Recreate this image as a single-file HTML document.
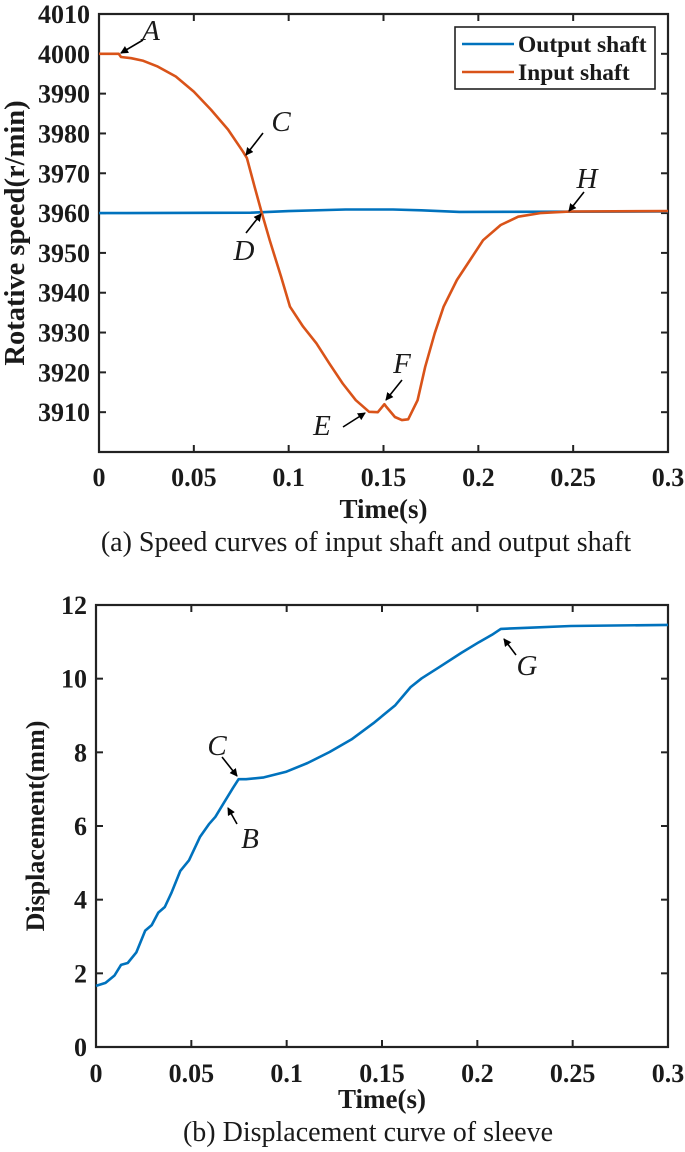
<!DOCTYPE html>
<html><head><meta charset="utf-8"><style>
html,body{margin:0;padding:0;background:#fff;}
svg{display:block;}
text{font-family:"Liberation Serif",serif;fill:#1a1a1a;}
.tk{font-weight:bold;font-size:26px;}
.lb{font-weight:bold;font-size:27px;}
.cap{font-size:28px;}
.an{font-style:italic;font-size:29px;}
</style></head><body>
<svg id="svg" width="685" height="1152" viewBox="0 0 685 1152" xmlns="http://www.w3.org/2000/svg">
<defs><marker id="ah" markerWidth="8" markerHeight="8" refX="7" refY="4" orient="auto" markerUnits="userSpaceOnUse"><path d="M0,0 L8,4 L0,8 z" fill="#000"/></marker></defs>
<g id="topChart"></g>
<g id="botChart"></g>
</svg>
<script>
// ---- Chart (a) data ----
const speedXTicks = [0,0.05,0.1,0.15,0.2,0.25,0.3];
const speedXTickLabels = ["0","0.05","0.1","0.15","0.2","0.25","0.3"];
const speedYTicks = [3910,3920,3930,3940,3950,3960,3970,3980,3990,4000,4010];
const speedYTickLabels = ["3910","3920","3930","3940","3950","3960","3970","3980","3990","4000","4010"];
const inputT = [0,0.0104,0.0116,0.017,0.023,0.031,0.0405,0.05,0.059,0.068,0.076,0.078,0.082,0.0856,0.09,0.096,0.1007,0.1076,0.1146,0.1215,0.1285,0.1354,0.1424,0.147,0.1505,0.1516,0.156,0.1597,0.163,0.168,0.172,0.177,0.1817,0.1887,0.1956,0.2025,0.2118,0.221,0.2326,0.2488,0.3];
const inputV = [4000,4000,3999.2,3998.9,3998.3,3996.8,3994.3,3990.5,3986,3981,3975.4,3973.8,3966.7,3960.4,3953.2,3944,3936.5,3931.5,3927.3,3922.2,3917.2,3913,3910.1,3910,3912,3911.3,3908.8,3908,3908.2,3913,3921.4,3929.8,3936.5,3943.2,3948.2,3953.2,3957,3959.1,3960,3960.4,3960.5];
const outputT = [0,0.08,0.1,0.13,0.155,0.17,0.19,0.3];
const outputV = [3960,3960.1,3960.5,3960.9,3960.9,3960.7,3960.3,3960.4];
// ---- Chart (b) data ----
const dispXTicks = [0,0.05,0.1,0.15,0.2,0.25,0.3];
const dispXTickLabels = ["0","0.05","0.1","0.15","0.2","0.25","0.3"];
const dispYTicks = [0,2,4,6,8,10,12];
const dispYTickLabels = ["0","2","4","6","8","10","12"];
const dispT = [0,0.005,0.0097,0.0131,0.0166,0.0212,0.0258,0.0292,0.0327,0.0361,0.0396,0.0442,0.0488,0.0546,0.0592,0.0626,0.0672,0.0718,0.0748,0.0787,0.088,0.0995,0.111,0.1225,0.134,0.1455,0.157,0.165,0.1708,0.18,0.1916,0.2008,0.2077,0.2123,0.2261,0.249,0.3];
const dispV = [1.66,1.74,1.94,2.23,2.28,2.57,3.16,3.31,3.65,3.8,4.19,4.78,5.07,5.71,6.05,6.25,6.64,7.03,7.27,7.27,7.32,7.47,7.71,8.01,8.35,8.79,9.28,9.77,10.01,10.31,10.7,10.99,11.19,11.35,11.38,11.43,11.46];

const NS="http://www.w3.org/2000/svg";
function mk(parent,tag,attrs,txt){const e=document.createElementNS(NS,tag);for(const k in attrs)e.setAttribute(k,attrs[k]);if(txt!==undefined)e.textContent=txt;parent.appendChild(e);return e;}

function axes(g,L,R,T,B,x0,x1,y0,y1,xt,xtl,yt,ytl,tickY,xlabY,ylabX,ylab,ylabSize){
  const sx=v=>L+(v-x0)/(x1-x0)*(R-L), sy=v=>B-(v-y0)/(y1-y0)*(B-T);
  const fr=mk(g,'rect',{x:L,y:T,width:R-L,height:B-T,fill:'none',stroke:'#222','stroke-width':2.2});
  
  
  xt.forEach((v,i)=>{const x=sx(v);
    mk(g,'line',{x1:x,y1:B,x2:x,y2:B-7,stroke:'#222','stroke-width':2});
    mk(g,'line',{x1:x,y1:T,x2:x,y2:T+7,stroke:'#222','stroke-width':2});
    const t=mk(g,'text',{x:x,y:tickY,'text-anchor':'middle','class':'tk'},xtl[i]);
    
    
  });
  yt.forEach((v,i)=>{const y=sy(v);
    mk(g,'line',{x1:L,y1:y,x2:L+7,y2:y,stroke:'#222','stroke-width':2});
    mk(g,'line',{x1:R,y1:y,x2:R-7,y2:y,stroke:'#222','stroke-width':2});
    const t=mk(g,'text',{x:L-9,y:y+9,'text-anchor':'end','class':'tk'},ytl[i]);
    
    
  });
  const xl=mk(g,'text',{x:(L+R)/2,y:xlabY,'text-anchor':'middle','class':'lb'},'Time(s)');
  
  
  const yl=mk(g,'text',{x:0,y:0,'text-anchor':'middle','font-weight':'bold','font-size':ylabSize+'px',transform:`translate(${ylabX},${(T+B)/2}) rotate(-90)`},ylab);
  
  
  return {sx,sy};
}
function line(g,sx,sy,xs,ys,color,name){
  const d=xs.map((v,i)=>(i?'L':'M')+sx(v).toFixed(1)+','+sy(ys[i]).toFixed(1)).join(' ');
  const p=mk(g,'path',{d:d,fill:'none',stroke:color,'stroke-width':2.6,'stroke-linejoin':'round'});
  
  
}
function ann(g,label,tx,ty,ax1,ay1,ax2,ay2){
  const a=mk(g,'line',{x1:ax1,y1:ay1,x2:ax2,y2:ay2,stroke:'#000','stroke-width':1.6,'marker-end':'url(#ah)'});
  
  
  const t=mk(g,'text',{x:tx,y:ty+10,'text-anchor':'middle','class':'an'},label);
  
  
}

const topG=document.getElementById('topChart');
const A=axes(topG,99,668,14,452,0,0.3,3900,4010,speedXTicks,speedXTickLabels,speedYTicks,speedYTickLabels,486,518,24,'Rotative speed(r/min)',28.5);
line(topG,A.sx,A.sy,outputT,outputV,'#0072BD','output-shaft-line');
line(topG,A.sx,A.sy,inputT,inputV,'#D95319','input-shaft-line');
const lg=mk(topG,'g',{});


mk(lg,'rect',{x:455,y:27,width:200,height:62,fill:'#fff',stroke:'#222','stroke-width':1.6});
mk(lg,'line',{x1:462,y1:44,x2:514,y2:44,stroke:'#0072BD','stroke-width':2.6});
mk(lg,'line',{x1:462,y1:72,x2:514,y2:72,stroke:'#D95319','stroke-width':2.6});
const l1=mk(lg,'text',{x:518,y:52,'font-weight':'bold','font-size':'23.5px'},'Output shaft');


const l2=mk(lg,'text',{x:518,y:80,'font-weight':'bold','font-size':'23.5px'},'Input shaft');


ann(topG,'A',151,30,143,40,121,53);
ann(topG,'C',281,121,263,133,246,155);
ann(topG,'D',244,250,246,233,261,214);
ann(topG,'E',322,425,343,427,365,413);
ann(topG,'F',402,363,402,380,386,400);
ann(topG,'H',587,178,584,192,569,211);
const c1=mk(topG,'text',{x:366,y:551,'text-anchor':'middle','class':'cap'},'(a) Speed curves of input shaft and output shaft');



const botG=document.getElementById('botChart');
const B=axes(botG,96,668,605,1047,0,0.3,0,12,dispXTicks,dispXTickLabels,dispYTicks,dispYTickLabels,1082,1108,44,'Displacement(mm)',26);
line(botG,B.sx,B.sy,dispT,dispV,'#0072BD','displacement-line');
ann(botG,'C',217,745,222,757,237,776);
ann(botG,'B',250,838,237,824,228,808);
ann(botG,'G',527,665,516,655,504,639);
const c2=mk(botG,'text',{x:368,y:1141,'text-anchor':'middle','class':'cap'},'(b) Displacement curve of sleeve');


</script>
</body></html>
